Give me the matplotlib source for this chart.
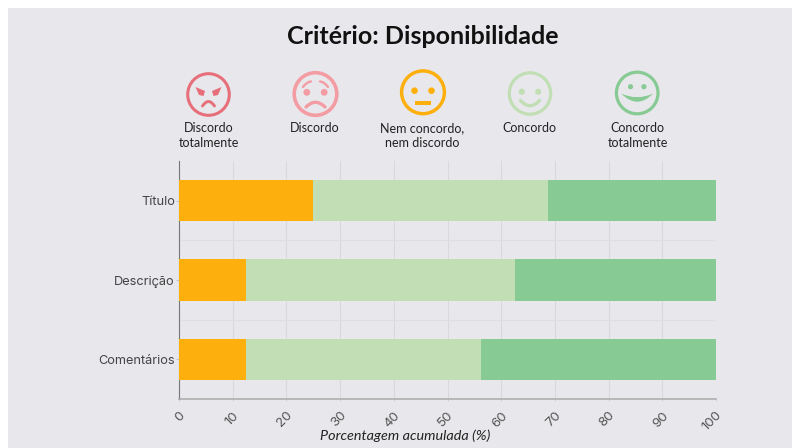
import matplotlib
matplotlib.use('Agg')
import numpy as np
from matplotlib import pyplot as plt
from matplotlib.patches import Circle, Rectangle, Polygon
from matplotlib.path import Path
from matplotlib.patches import PathPatch
from matplotlib.transforms import ScaledTranslation

plt.rcParams['font.family'] = ['Lato', 'DejaVu Sans']

categorias = ['Comentários', 'Descrição', 'Título']
nem = [12.5, 12.5, 25]
concordo = [43.75, 50, 43.75]
totalmente = [43.75, 37.5, 31.25]
ticks = [0, 10, 20, 30, 40, 50, 60, 70, 80, 90, 100]
legenda = ['Discordo\ntotalmente', 'Discordo', 'Nem concordo,\nnem discordo', 'Concordo', 'Concordo\ntotalmente']

BG = '#e8e8ec'
ROXO = '#e76f7a'
ROSA = '#f39ca3'
LARANJA = '#fdb00d'
VERDE1 = '#c1deb4'
VERDE2 = '#87ca94'

fig = plt.figure(figsize=(7.92, 4.48), dpi=100, facecolor='white')

# fundo e rostos em coordenadas de pixel
ov = fig.add_axes([0, 0, 1, 1], zorder=0)
ov.set_xlim(0, 792)
ov.set_ylim(448, 0)
ov.axis('off')
ov.add_patch(Rectangle((8, 8), 784, 440, fc=BG, ec='none'))


def curva(cx, cy, x0, y0, xc, yc, x1, y1, cor, lw):
    p = Path([(cx + x0, cy + y0), (cx + xc, cy + yc), (cx + x1, cy + y1)],
             [Path.MOVETO, Path.CURVE3, Path.CURVE3])
    ov.add_patch(PathPatch(p, fc='none', ec=cor, lw=lw, capstyle='round'))


def olhos(cx, cy, dx, dy, r, cor):
    ov.add_patch(Circle((cx - dx, cy + dy), r, fc=cor, ec='none'))
    ov.add_patch(Circle((cx + dx, cy + dy), r, fc=cor, ec='none'))


def aro(cx, cy, r, cor, lw=2.2):
    ov.add_patch(Circle((cx, cy), r, fc='none', ec=cor, lw=lw))


# discordo totalmente
cx, cy = 208.5, 94.5
aro(cx, cy, 20.8, ROXO)
ov.add_patch(Polygon([(cx - 13, cy - 7.5), (cx - 3.5, cy - 3.5), (cx - 5, cy + 1.5), (cx - 9.5, cy + 0.5)], fc=ROXO, ec='none'))
ov.add_patch(Polygon([(cx + 13, cy - 7.5), (cx + 3.5, cy - 3.5), (cx + 5, cy + 1.5), (cx + 9.5, cy + 0.5)], fc=ROXO, ec='none'))
curva(cx, cy, -6, 11.5, 0, 2.5, 6, 11.5, ROXO, 2.1)

# discordo
cx, cy = 315.5, 94
aro(cx, cy, 21.3, ROSA, 2.6)
olhos(cx, cy, 8.7, -1.7, 3.4, ROSA)
curva(cx, cy, -12.5, -7, -9, -12, -4.5, -12.5, ROSA, 1.7)
curva(cx, cy, 12.5, -7, 9, -12, 4.5, -12.5, ROSA, 1.7)
curva(cx, cy, -9.5, 13, 0, 3.5, 9.5, 13, ROSA, 2.4)

# nem concordo
cx, cy = 423, 92.3
aro(cx, cy, 21.4, LARANJA, 2.5)
olhos(cx, cy, 8.5, -1.6, 3.3, LARANJA)
ov.add_patch(Rectangle((cx - 8, cy + 8.8), 16, 3.6, fc=LARANJA, ec='none'))

# concordo
cx, cy = 530, 93.5
aro(cx, cy, 20.7, VERDE1, 2.3)
olhos(cx, cy, 8.2, -1.8, 3.1, VERDE1)
curva(cx, cy, -9.5, 7, 0, 17.5, 9.5, 7, VERDE1, 2.4)

# concordo totalmente
cx, cy = 637.2, 93
aro(cx, cy, 20.8, VERDE2, 2.3)
olhos(cx, cy, 6.7, -6.3, 2.6, VERDE2)
p = Path([(cx - 16, cy + 0.5), (cx, cy + 8), (cx + 16, cy + 0.5), (cx, cy + 17), (cx - 16, cy + 0.5)],
         [Path.MOVETO, Path.CURVE3, Path.CURVE3, Path.CURVE3, Path.CURVE3])
ov.add_patch(PathPatch(p, fc=VERDE2, ec='none'))

ov.text(423, 36, 'Critério: Disponibilidade', ha='center', va='center', fontsize=18, fontweight='bold', color='#111111')
for x, t in zip([209, 315, 422, 529, 637.5], legenda):
    ov.text(x, 122, t, ha='center', va='top', fontsize=9, color='#222222', linespacing=1.29)

# grafico
ax = fig.add_axes([179 / 792, 1 - 399 / 448, (716 - 179) / 792, 238 / 448], zorder=1)
ax.patch.set_alpha(0)
y = np.arange(len(categorias))
a = np.array(nem)
b = np.array(concordo)
c = np.array(totalmente)
h = 0.525
ax.barh(y, a, h, color=LARANJA, zorder=3)
ax.barh(y, b, h, left=a, color=VERDE1, zorder=3)
ax.barh(y, c, h, left=a + b, color=VERDE2, zorder=3)

ax.set_xlim(0, 100)
ax.set_ylim(-0.5, 2.5)
ax.set_xticks(ticks)
ax.set_yticks(y)
ax.set_yticklabels(categorias, fontfamily=['Inter', 'DejaVu Sans'], fontsize=9.2, color='#444444')
ax.set_xticklabels(ticks, rotation=45, ha='right', rotation_mode='anchor',
                   fontfamily=['Inter', 'DejaVu Sans'], fontsize=9.6, color='#555555')
# rotulos do eixo x um pouco para a esquerda, como no original
desloca = ScaledTranslation(-5 / 100, 0, fig.dpi_scale_trans)
for lab in ax.get_xticklabels():
    lab.set_transform(lab.get_transform() + desloca)
ax.set_yticks([0.5, 1.5], minor=True)
ax.grid(True, axis='x', color='#d9d9dd', lw=0.8, zorder=0)
ax.grid(True, axis='y', which='minor', color='#dfdfe2', lw=0.8, zorder=0)
ax.tick_params(axis='y', which='major', length=2, width=0.6, color='#bbbbbb', pad=1)
ax.tick_params(axis='y', which='minor', length=0)
ax.tick_params(axis='x', length=1.5, width=0.6, color='#cccccc', pad=6)
ax.spines['top'].set_visible(False)
ax.spines['right'].set_visible(False)
ax.spines['left'].set_color('#777777')
ax.spines['bottom'].set_color('#aaaaaa')
ax.spines['bottom'].set_linewidth(1.1)
ov.text(405, 435.5, 'Porcentagem acumulada (%)', ha='center', va='center', fontsize=10.4, style='italic', color='#222222')

fig.savefig('out.png', dpi=100)
